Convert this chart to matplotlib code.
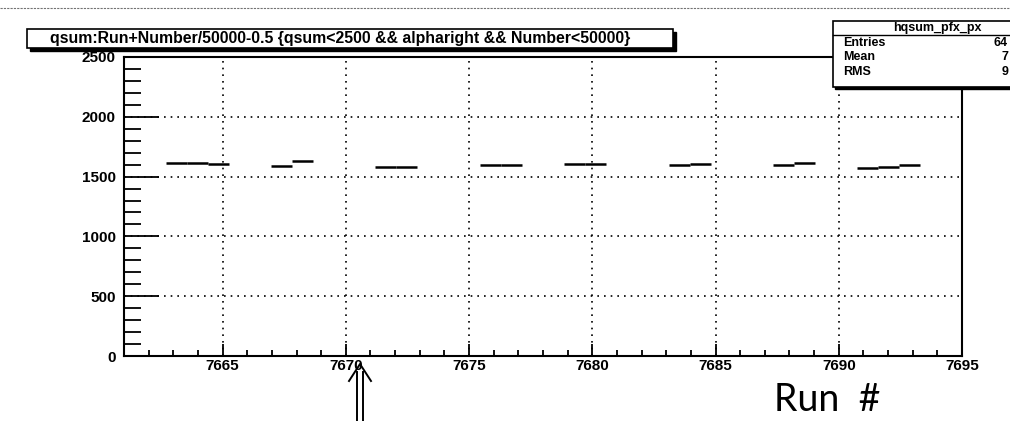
import numpy as np
import matplotlib
matplotlib.use("Agg")
import matplotlib.pyplot as plt
from matplotlib.patches import Rectangle
from matplotlib.lines import Line2D

# profile binning (TTree::Draw auto range)
x_min = 7661
x_max = 7695
n_bins = 40

# filled bins of the profile and their mean qsum
bin_index = [2, 3, 4, 7, 8, 12, 13, 17, 18, 21, 22, 26, 27, 31, 32, 35, 36, 37]
qsum_mean = [1613, 1612, 1605, 1588, 1632, 1582, 1584, 1598, 1596,
             1604, 1604, 1595, 1605, 1595, 1610, 1573, 1582, 1598]

x_major = [7665, 7670, 7675, 7680, 7685, 7690, 7695]
y_major = [0, 500, 1000, 1500, 2000, 2500]

title_text = "qsum:Run+Number/50000-0.5 {qsum<2500 && alpharight && Number<50000}"
stats_name = "hqsum_pfx_px"
# values are cut by the page edge in the scan
stats_rows = [("Entries", "64"), ("Mean", "7"), ("RMS", "9")]

W, H = 1010, 421
plt.rcParams['font.family'] = ['Liberation Sans', 'DejaVu Sans']


def fx(px):
    return px / W


def fy(py):
    return 1 - py / H


fig = plt.figure(figsize=(W / 100, H / 100), dpi=100)
ax = fig.add_axes([fx(124), fy(356), fx(962) - fx(124), fy(57) - fy(356)])

width = (x_max - x_min) / n_bins
lo = [x_min + i * width for i in bin_index]
hi = [x_min + (i + 1) * width for i in bin_index]
ax.hlines(qsum_mean, lo, hi, color='black', lw=1.8, zorder=3)

ax.set_xlim(x_min, x_max)
ax.set_ylim(0, 2500)
ax.set_xticks(x_major)
ax.set_xticks(np.arange(7662, 7695), minor=True)
ax.set_yticks(y_major)
ax.set_yticks(np.arange(0, 2501, 100), minor=True)
ax.grid(True, which='major', linestyle=(0, (1, 3)), color='black', lw=1.2)

for lab in ax.get_xticklabels() + ax.get_yticklabels():
    lab.set_fontweight('bold')
    lab.set_fontsize(11)
ax.tick_params(axis='y', which='major', direction='in', length=25, width=1.3, pad=6)
ax.tick_params(axis='y', which='minor', direction='in', length=12, width=1.3)
ax.tick_params(axis='x', which='major', direction='in', length=9, width=1.3, pad=2)
ax.tick_params(axis='x', which='minor', direction='in', length=4.5, width=1.3)
for s in ax.spines.values():
    s.set_linewidth(1.5)

# title box with shadow
fig.patches.append(Rectangle((fx(30), fy(51)), fx(676) - fx(30), fy(32) - fy(51),
                             transform=fig.transFigure, facecolor='black', edgecolor='black'))
fig.patches.append(Rectangle((fx(27), fy(48)), fx(673) - fx(27), fy(29) - fy(48),
                             transform=fig.transFigure, facecolor='white', edgecolor='black', lw=1.2))
fig.text(fx(340), fy(39), title_text, ha='center', va='center',
         fontsize=11.4, fontweight='bold')

# stats box
fig.patches.append(Rectangle((fx(835), fy(89)), fx(1060) - fx(835), fy(23) - fy(89),
                             transform=fig.transFigure, facecolor='black', edgecolor='black', zorder=5))
fig.patches.append(Rectangle((fx(833), fy(87)), fx(1058) - fx(833), fy(21) - fy(87),
                             transform=fig.transFigure, facecolor='white', edgecolor='black', lw=1.2, zorder=6))
fig.lines.append(Line2D([fx(833), fx(1058)], [fy(35), fy(35)], transform=fig.transFigure,
                        color='black', lw=1.0, zorder=7))
fig.text(fx(937), fy(28), stats_name, ha='center', va='center', fontsize=9,
         fontweight='bold', zorder=8)
for k, (name, val) in enumerate(stats_rows):
    yy = fy(43 + 14.5 * k)
    fig.text(fx(843), yy, name, ha='left', va='center', fontsize=9, fontweight='bold', zorder=8)
    fig.text(fx(1008), yy, val, ha='right', va='center', fontsize=9, fontweight='bold', zorder=8)

# scanned page edge
fig.lines.append(Line2D([0, 1], [fy(8), fy(8)], transform=fig.transFigure,
                        color='0.45', lw=0.8, linestyle=(0, (2, 1))))

# handwritten annotation
fig.text(fx(774), fy(400), "Run  #", ha='left', va='center', fontsize=27,
         family=['Lato', 'DejaVu Sans'], color='black')
for xx in (357, 363):
    fig.lines.append(Line2D([fx(xx), fx(xx)], [fy(421), fy(372)], transform=fig.transFigure,
                            color='black', lw=1.4))
fig.lines.append(Line2D([fx(349), fx(360), fx(371)], [fy(381), fy(364), fy(381)],
                        transform=fig.transFigure, color='black', lw=1.4))

fig.savefig("out.png", dpi=100)
